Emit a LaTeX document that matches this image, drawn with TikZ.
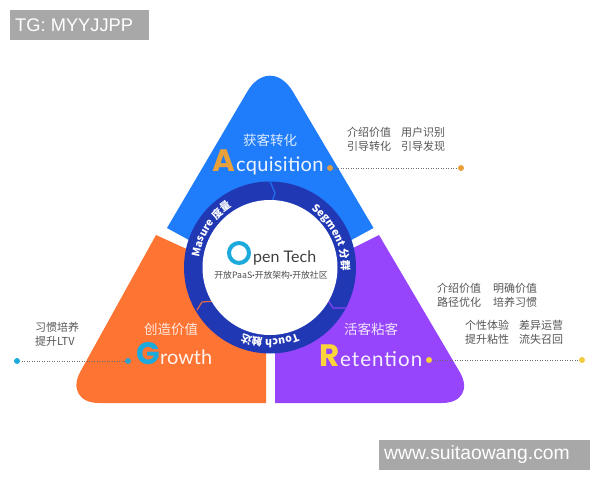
\documentclass[tikz,border=0pt]{standalone}
\usepackage{fontspec}
\usetikzlibrary{decorations.text}
\setmainfont{Lato}
\newfontfamily\cjk{Noto Sans CJK SC}
\newfontfamily\wm{Liberation Sans}
\newfontfamily\capf{Poppins}
\definecolor{cblue}{HTML}{1F7CFB}
\definecolor{corange}{HTML}{FE7433}
\definecolor{cpurple}{HTML}{9645FD}
\definecolor{cring}{HTML}{2138B4}
\definecolor{ccyan}{HTML}{1CA9DC}
\definecolor{cgold}{HTML}{E8A13A}
\definecolor{cyell}{HTML}{FBD33A}
\definecolor{cgrey}{HTML}{A8A8A8}
\definecolor{ctext}{HTML}{555555}
\definecolor{clead}{HTML}{6A6A6A}
\tikzset{
 x=1pt,y=1pt,
 side/.style={font=\cjk\fontsize{11}{14}\selectfont,text=ctext,align=left,anchor=west,inner sep=0pt},
 head/.style={font=\cjk\fontsize{13.5}{14}\selectfont,text=white,opacity=.85,inner sep=0pt},
 word/.style={font=\fontsize{20}{20}\selectfont,text=white,opacity=.92,anchor=base west,inner sep=0pt},
 bigcap/.style={font=\capf\bfseries\fontsize{31}{32}\selectfont,anchor=base east,inner sep=0pt},
 dotn/.style={circle,inner sep=0pt,minimum size=#1},
 lead/.style={line width=.8pt,draw=clead,dash pattern=on .8pt off 1.7pt},
 ringtext/.style={decorate,decoration={text along path,text align=center,text={#1}}},
 seam/.style={line width=1.2pt,line join=round}
}
\begin{document}
\begin{tikzpicture}
\useasboundingbox (0,0) rectangle (600,480);
% triangles
\fill[cblue] (167,252) [rounded corners=45] -- (270,427) [sharp corners] -- (373.5,252) -- (300,212) -- (240,212) -- cycle;
\fill[corange] (156,245) -- (215,218) -- (266,218) -- (266,77) [rounded corners=36] -- (63,77) [sharp corners] -- cycle;
\fill[cpurple] (379,245) -- (325,218) -- (275,218) -- (275,77) [rounded corners=36] -- (478,77) [sharp corners] -- cycle;
% ring
\node[circle,fill=cring,minimum size=172pt,inner sep=0pt] (ring) at (270,212.5) {};
\coordinate (s1) at (270,299);
\coordinate (s2) at (275,287);
\coordinate (s3) at (271,275);
\draw[seam,cblue!85!cring] (s1) -- (s2) -- (s3);
\coordinate (o1) at (197,170);
\coordinate (o2) at (202,178);
\coordinate (o3) at (215,179);
\draw[seam,corange!85!cring] (o1) -- (o2) -- (o3);
\coordinate (p1) at (328,180);
\coordinate (p2) at (333,172);
\coordinate (p3) at (347,172);
\draw[seam,cpurple!90!cring] (p1) -- (p2) -- (p3);
\node[circle,fill=white,minimum size=135pt,inner sep=0pt] (hub) at (270,212.5) {};
% ring labels
\path[ringtext={|\cjk\bfseries\fontsize{10.5}{10}\selectfont\color{white}|Masure 度量}] (270,212.5) ++(178:71.5) arc[start angle=178,end angle=116,radius=71.5];
\path[ringtext={|\cjk\bfseries\fontsize{10.5}{10}\selectfont\color{white}|Segment 分群}] (270,212.5) ++(60:71.5) arc[start angle=60,end angle=-8,radius=71.5];
\path[ringtext={|\cjk\bfseries\fontsize{10.5}{10}\selectfont\color{white}|Touch 触达}] (270,212.5) ++(-60:71.5) arc[start angle=-60,end angle=-120,radius=71.5];
% centre
\node[circle,draw=ccyan,line width=4pt,minimum size=20pt,inner sep=0pt] (obig) at (239,227) {};
\node[font=\fontsize{16}{18}\selectfont,text=black!75,anchor=base west,inner sep=0pt] (otech) at (253,217) {pen Tech};
\node[font=\cjk\fontsize{8.8}{10}\selectfont,text=black!70,inner sep=0pt] (osub) at (271,205) {开放PaaS{\rmfamily\bfseries·}开放架构{\rmfamily\bfseries·}开放社区};
% acquisition
\node[head] (h1) at (270,340) {获客转化};
\node[word,font=\addfontfeature{LetterSpace=1.5}\fontsize{20}{20}\selectfont] (w1) at (236,308) {cquisition};
\node[bigcap,text=cgold] (c1) at (w1.base west) {A};
\node[dotn=6pt,fill=cgold!85!gray] (d1a) at (330,312) {};
\node[dotn=6pt,fill=cgold] (d1b) at (461,312) {};
\draw[lead] (d1a) -- (d1b);
\node[side] (t1) at (347,341) {介绍价值\hspace{10pt}用户识别\\引导转化\hspace{10pt}引导发现};
% growth
\node[head] (h2) at (171,151) {创造价值};
\node[word] (w2) at (160,116) {rowth};
\node[bigcap,text=ccyan] (c2) at (w2.base west) {G};
\node[dotn=6pt,fill=ccyan!80!gray] (d2a) at (128,119) {};
\node[dotn=6pt,fill=ccyan] (d2b) at (17,119) {};
\draw[lead] (d2a) -- (d2b);
\node[side] (t2) at (35,146) {习惯培养\\提升LTV};
% retention
\node[head] (h3) at (371,151) {活客粘客};
\node[word,font=\addfontfeature{LetterSpace=5}\fontsize{20.5}{20}\selectfont] (w3) at (340,114) {etention};
\node[bigcap,text=cyell] (c3) at (w3.base west) {R};
\node[dotn=6pt,fill=cyell] (d3a) at (429,120) {};
\node[dotn=6pt,fill=cyell!90!gray] (d3b) at (582,120) {};
\draw[lead] (d3a) -- (d3b);
\node[side] (t3) at (437,185) {介绍价值\hspace{12pt}明确价值\\路径优化\hspace{12pt}培养习惯};
\node[side] (t4) at (465,148) {个性体验\hspace{10pt}差异运营\\提升粘性\hspace{10pt}流失召回};
% watermarks
\node[fill=cgrey,minimum width=139pt,minimum height=30pt,anchor=north west,inner sep=0pt] (tg) at (10,470) {};
\node[font=\wm\fontsize{18.3}{19}\selectfont,text=white,anchor=west,inner sep=0pt] (tgt) at (15,455) {TG: MYYJJPP};
\node[fill=cgrey,minimum width=211pt,minimum height=30pt,anchor=north west,inner sep=0pt] (site) at (379,40) {};
\node[font=\wm\fontsize{19.3}{20}\selectfont,text=white,anchor=west,inner sep=0pt] (sitet) at (384,25) {www.suitaowang.com};
\end{tikzpicture}
\end{document}
